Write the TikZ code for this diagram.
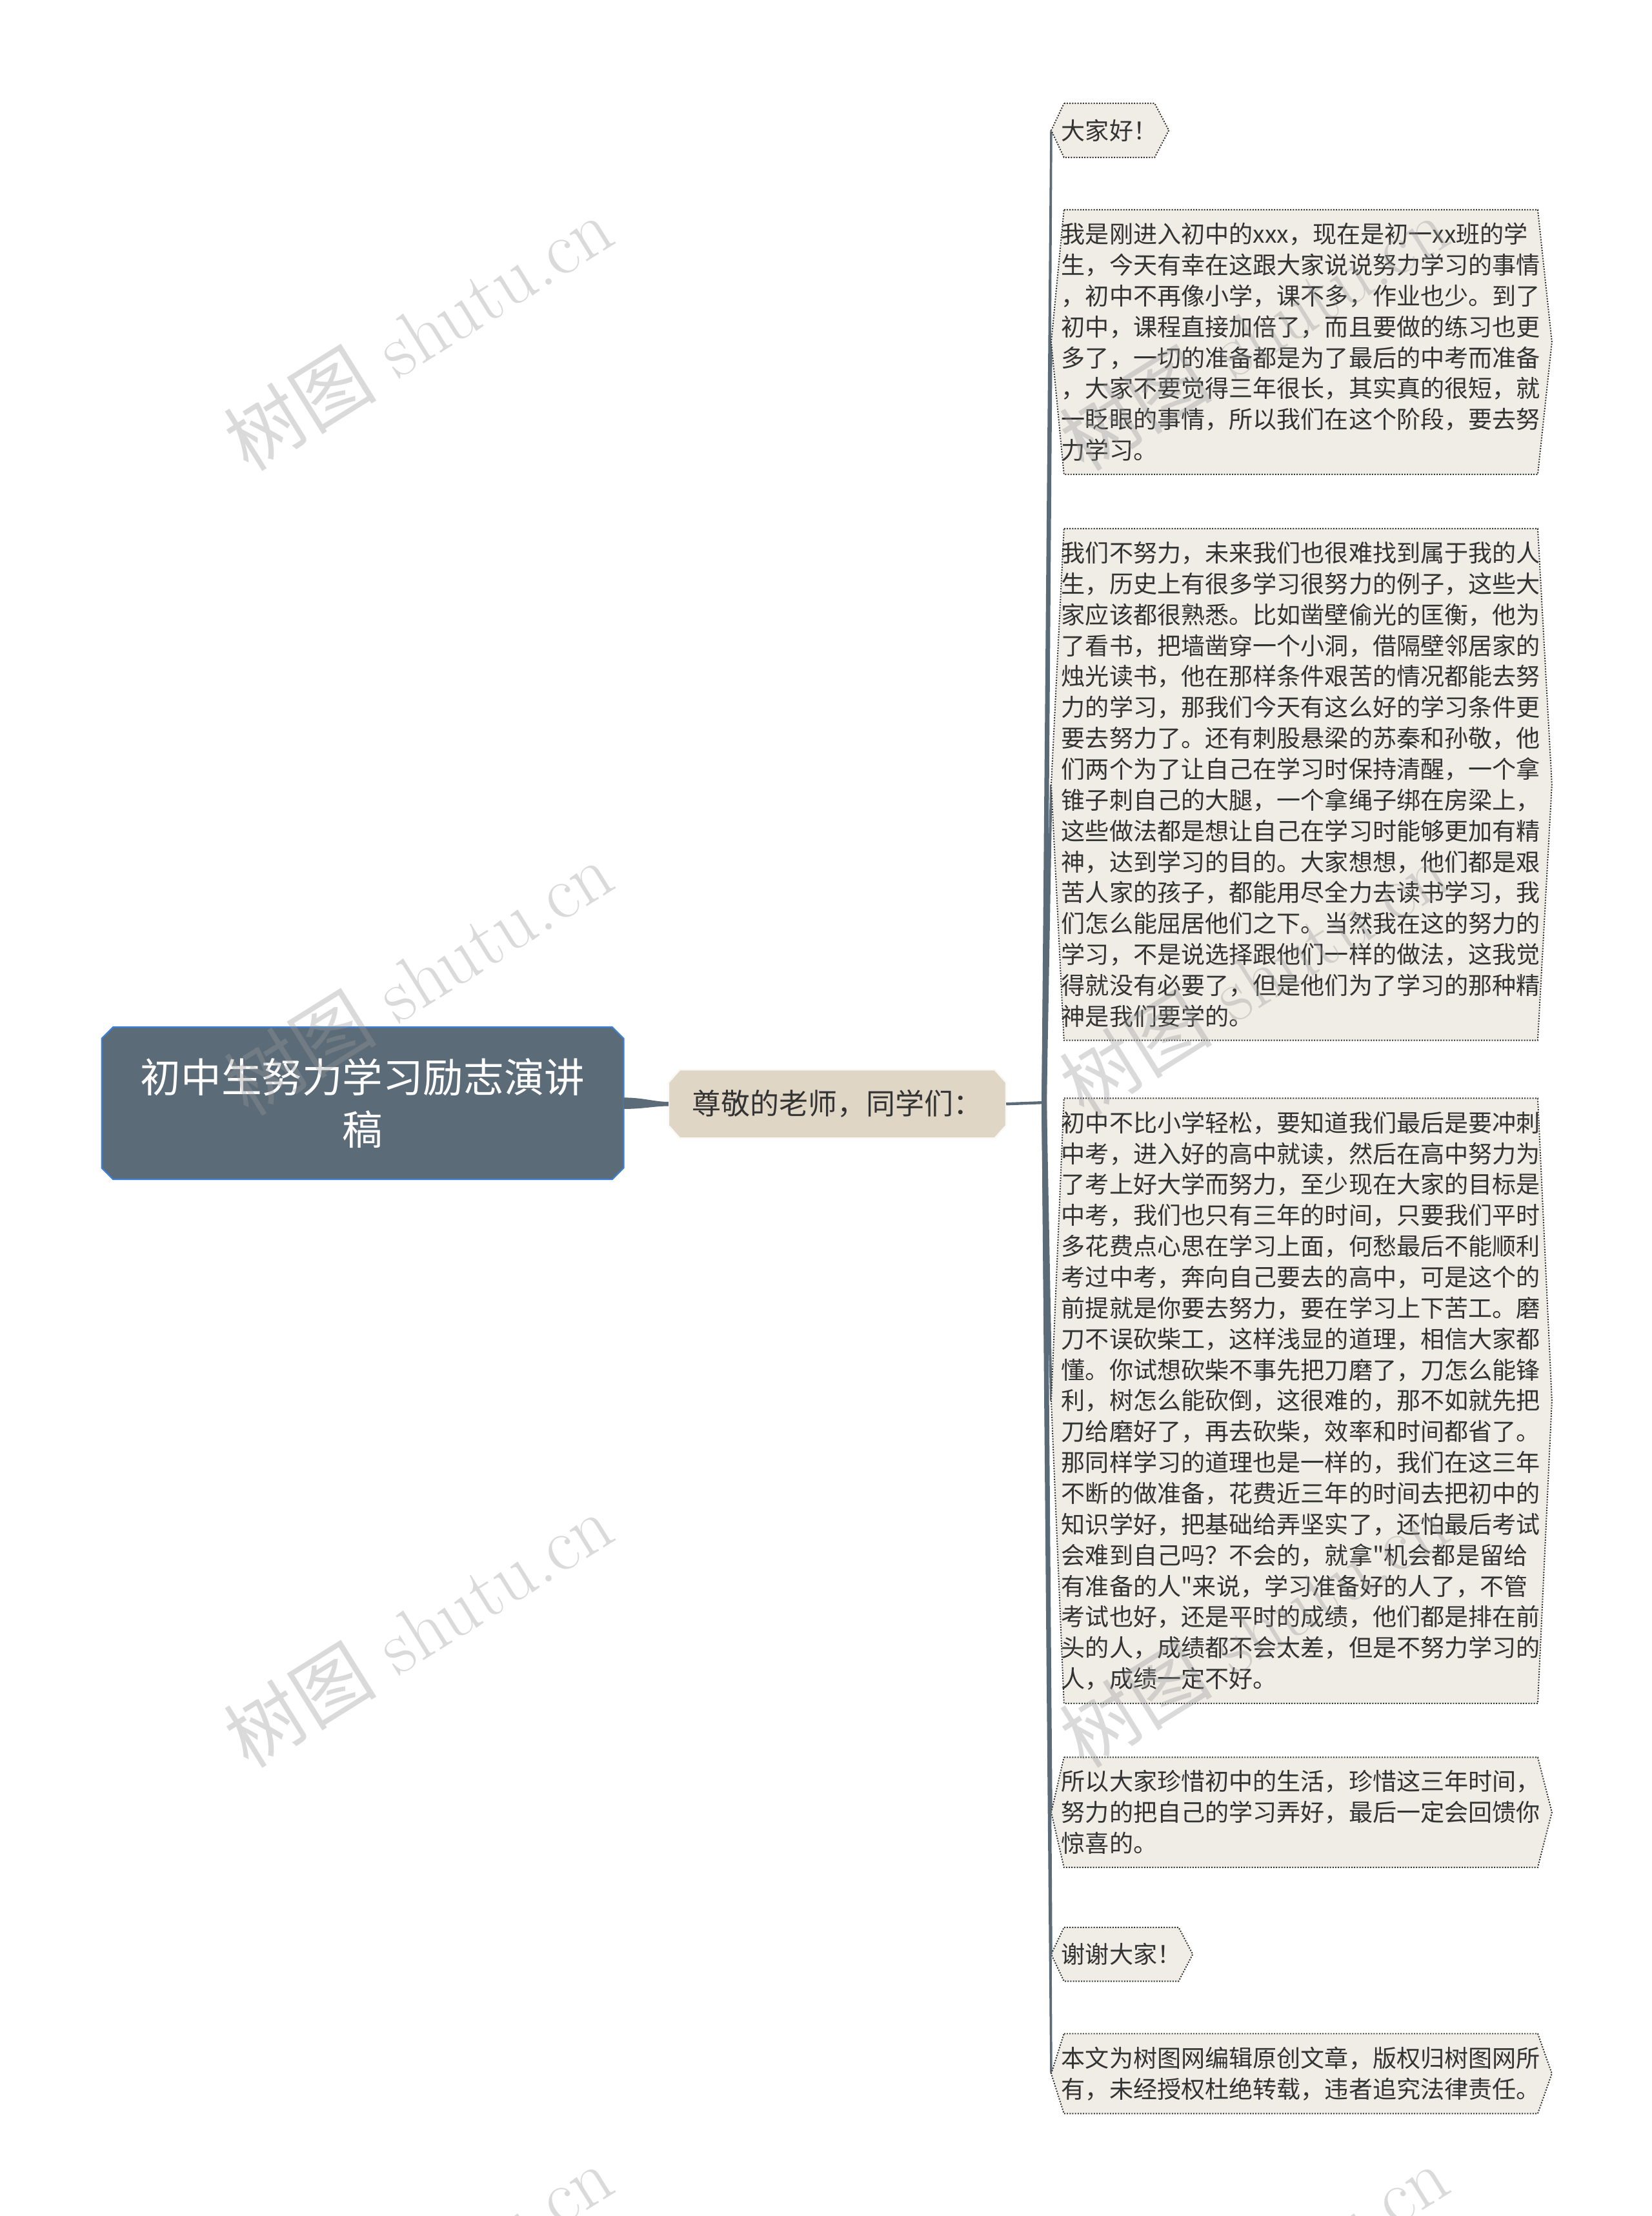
\documentclass[tikz,border=0pt]{standalone}
\usepackage{fontspec}
\newfontfamily\cjk{Noto Sans CJK SC}
\usetikzlibrary{backgrounds}

\definecolor{slate}{HTML}{5B6B78}
\definecolor{slateline}{HTML}{3D80D6}
\definecolor{sand}{HTML}{E0D6C6}
\definecolor{paper}{HTML}{F0EDE6}
\definecolor{ink}{HTML}{333333}

\tikzset{
  leaf/.style={inner xsep=0pt, inner ysep=9pt, align=left, text=ink,
    font=\cjk\fontsize{16.9pt}{21.8pt}\selectfont},
  wideleaf/.style={leaf, anchor=north west, text width=338pt},
  shortleaf/.style={leaf, anchor=west, inner ysep=11pt},
  leafshape/.style={fill=paper, draw=ink, densely dotted, line width=0.9pt},
  twig/.style={fill=slate},
  wmtext/.style={text=black!40, opacity=0.36, rotate=32,
    font=\fontsize{54pt}{54pt}\selectfont}
}

\begin{document}
\begin{tikzpicture}[x=1pt, y=-1pt]
\useasboundingbox (0,0) rectangle (1166,1563.7);

% root and first branch
\node[minimum width=368pt, minimum height=107pt, align=center, text=white,
  font=\cjk\fontsize{28.5pt}{37pt}\selectfont] (root) at (256,778.5)
  {初中生努力学习励志演讲\\稿};
\node[minimum width=238pt, minimum height=48pt, text=ink,
  font=\cjk\fontsize{20.5pt}{24pt}\selectfont] (greet) at (591,779)
  {尊敬的老师，同学们：};
\coordinate (hub) at (737,778);

% leaves
\node[shortleaf] (hello) at (749,92) {大家好！};
\node[wideleaf] (intro) at (749,148) {我是刚进入初中的xxx，现在是初一xx班的学\\
生，今天有幸在这跟大家说说努力学习的事情\\
，初中不再像小学，课不多，作业也少。到了\\
初中，课程直接加倍了，而且要做的练习也更\\
多了，一切的准备都是为了最后的中考而准备\\
，大家不要觉得三年很长，其实真的很短，就\\
一眨眼的事情，所以我们在这个阶段，要去努\\
力学习。};
\node[wideleaf] (effort) at (749,373) {我们不努力，未来我们也很难找到属于我的人\\
生，历史上有很多学习很努力的例子，这些大\\
家应该都很熟悉。比如凿壁偷光的匡衡，他为\\
了看书，把墙凿穿一个小洞，借隔壁邻居家的\\
烛光读书，他在那样条件艰苦的情况都能去努\\
力的学习，那我们今天有这么好的学习条件更\\
要去努力了。还有刺股悬梁的苏秦和孙敬，他\\
们两个为了让自己在学习时保持清醒，一个拿\\
锥子刺自己的大腿，一个拿绳子绑在房梁上，\\
这些做法都是想让自己在学习时能够更加有精\\
神，达到学习的目的。大家想想，他们都是艰\\
苦人家的孩子，都能用尽全力去读书学习，我\\
们怎么能屈居他们之下。当然我在这的努力的\\
学习，不是说选择跟他们一样的做法，这我觉\\
得就没有必要了，但是他们为了学习的那种精\\
神是我们要学的。};
\node[wideleaf] (exam) at (749,775) {初中不比小学轻松，要知道我们最后是要冲刺\\
中考，进入好的高中就读，然后在高中努力为\\
了考上好大学而努力，至少现在大家的目标是\\
中考，我们也只有三年的时间，只要我们平时\\
多花费点心思在学习上面，何愁最后不能顺利\\
考过中考，奔向自己要去的高中，可是这个的\\
前提就是你要去努力，要在学习上下苦工。磨\\
刀不误砍柴工，这样浅显的道理，相信大家都\\
懂。你试想砍柴不事先把刀磨了，刀怎么能锋\\
利，树怎么能砍倒，这很难的，那不如就先把\\
刀给磨好了，再去砍柴，效率和时间都省了。\\
那同样学习的道理也是一样的，我们在这三年\\
不断的做准备，花费近三年的时间去把初中的\\
知识学好，把基础给弄坚实了，还怕最后考试\\
会难到自己吗？不会的，就拿"机会都是留给\\
有准备的人"来说，学习准备好的人了，不管\\
考试也好，还是平时的成绩，他们都是排在前\\
头的人，成绩都不会太差，但是不努力学习的\\
人，成绩一定不好。};
\node[wideleaf] (cherish) at (749,1240) {所以大家珍惜初中的生活，珍惜这三年时间，\\
努力的把自己的学习弄好，最后一定会回馈你\\
惊喜的。};
\node[shortleaf] (thanks) at (749,1379) {谢谢大家！};
\node[wideleaf] (notice) at (749,1435) {本文为树图网编辑原创文章，版权归树图网所\\
有，未经授权杜绝转载，违者追究法律责任。};

\begin{scope}[on background layer]
  \filldraw[fill=slate, draw=slateline, line width=1pt]
    ([xshift=8pt]root.north west) -- ([xshift=-8pt]root.north east)
    -- ([yshift=-8pt]root.north east) -- ([yshift=8pt]root.south east)
    -- ([xshift=-8pt]root.south east) -- ([xshift=8pt]root.south west)
    -- ([yshift=8pt]root.south west) -- ([yshift=-8pt]root.north west) -- cycle;
  \filldraw[fill=sand, draw=white!85!sand, line width=1.2pt]
    ([xshift=8pt]greet.north west) -- ([xshift=-8pt]greet.north east)
    -- ([yshift=-9pt]greet.north east) -- ([yshift=9pt]greet.south east)
    -- ([xshift=-8pt]greet.south east) -- ([xshift=8pt]greet.south west)
    -- ([yshift=9pt]greet.south west) -- ([yshift=-9pt]greet.north west) -- cycle;
  \fill[twig] ([yshift=4pt]root.east) .. controls +(14,0) and +(-10,0) .. ([yshift=1.5pt]greet.west)
    -- ([yshift=-1.5pt]greet.west) .. controls +(-10,0) and +(14,0) .. ([yshift=-4pt]root.east) -- cycle;
  \draw[slate, line width=2pt] (greet.east) -- (hub);
  \foreach \n in {hello,intro,effort,exam,cherish,thanks,notice} {
    \fill[twig] ([xshift=-1.8pt]hub) -- ([xshift=-7.8pt]\n.west)
      -- ([xshift=-6.2pt]\n.west) -- ([xshift=1.8pt]hub) -- cycle;
    \filldraw[leafshape] ([xshift=2pt]\n.north west) -- ([xshift=-2pt]\n.north east)
      -- ([xshift=8pt]\n.east) -- ([xshift=-2pt]\n.south east)
      -- ([xshift=2pt]\n.south west) -- ([xshift=-7pt]\n.west) -- cycle;
  }
\end{scope}

% watermarks
\foreach \x in {295,885}
  \foreach \y in {235,690,1150,1610}
    \node[wmtext] (wm-\x-\y) at (\x,\y) {{\cjk 树图} shutu.cn};
\end{tikzpicture}
\end{document}
